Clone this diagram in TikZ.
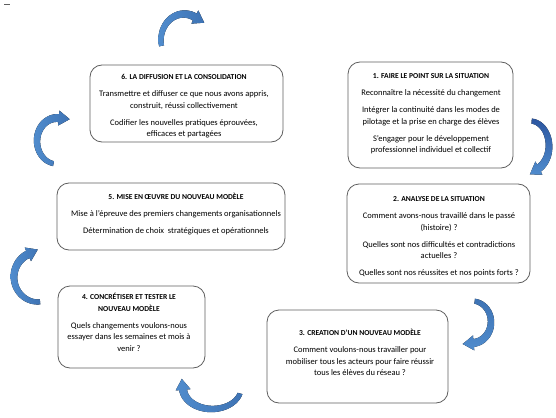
\documentclass[tikz,border=0pt]{standalone}
\usepackage{fontspec}
\setmainfont{Carlito}
\definecolor{boxgray}{RGB}{95,95,95}
\definecolor{arrblue}{RGB}{80,140,205}
\definecolor{arrmid}{RGB}{62,115,180}
\definecolor{arrdark}{RGB}{44,86,160}
\newcommand\bodyf{\fontsize{8.5}{11.5}\selectfont}
\newcommand\ttl[1]{{\fontsize{7.6}{11.5}\selectfont\bfseries\rule{0pt}{8pt}#1}}
\def\arrhl{11}
% #1 cx #2 cy #3 rx #4 ry #5 start angle #6 end angle #7 tail width #8 width at head #9 head width
\newcommand\carrow[9]{%
  \pgfmathsetmacro\sg{sign(#6-#5)}%
  \pgfmathsetmacro\bx{#1+#3*cos(#6)}%
  \pgfmathsetmacro\by{#2+#4*sin(#6)}%
  \pgfmathsetmacro\tx{-#3*sin(#6)*\sg}%
  \pgfmathsetmacro\ty{#4*cos(#6)*\sg}%
  \pgfmathsetmacro\tn{sqrt(\tx*\tx+\ty*\ty)}%
  \pgfmathsetmacro\tipx{\bx+\arrhl*\tx/\tn}%
  \pgfmathsetmacro\tipy{\by+\arrhl*\ty/\tn}%
  \fill[arrfill] plot[domain=#5:#6,samples=30,variable=\t]
    ({#1+(#3+(#7+(#8-#7)*(\t-(#5))/((#6)-(#5)))/2)*cos(\t)},{#2+(#4+(#7+(#8-#7)*(\t-(#5))/((#6)-(#5)))/2)*sin(\t)})
    -- ({#1+(#3+#9/2)*cos(#6)},{#2+(#4+#9/2)*sin(#6)})
    -- (\tipx,\tipy)
    -- ({#1+(#3-#9/2)*cos(#6)},{#2+(#4-#9/2)*sin(#6)})
    -- plot[domain=#6:#5,samples=30,variable=\t]
    ({#1+(#3-(#7+(#8-#7)*(\t-(#5))/((#6)-(#5)))/2)*cos(\t)},{#2+(#4-(#7+(#8-#7)*(\t-(#5))/((#6)-(#5)))/2)*sin(\t)})
    -- cycle;}
\begin{document}
\begin{tikzpicture}[x=1pt,y=-1pt,
  box/.style={draw=boxgray, line width=0.8pt, rounded corners=12pt, inner sep=0pt},
  txt/.style={align=center, inner sep=0pt, anchor=north, font=\bodyf},
  arrfill/.style={left color=arrblue, right color=arrmid}]
\useasboundingbox (0,0) rectangle (556,417);
\fill[white] (0,0) rectangle (556,417);
\draw[boxgray, line width=0.5pt] (4,4) -- (10,4);

% boxes
\node[box, minimum width=193pt, minimum height=77pt] (b6) at (186.5,103.5) {};
\node[box, minimum width=165pt, minimum height=106pt] (b1) at (430.5,115) {};
\node[box, minimum width=183pt, minimum height=99pt] (b2) at (438.5,233.5) {};
\node[box, minimum width=228pt, minimum height=67pt] (b5) at (171,216.5) {};
\node[box, minimum width=147pt, minimum height=82pt] (b4) at (131.5,327) {};
\node[box, minimum width=181pt, minimum height=93pt] (b3) at (357.5,356.5) {};

% texts
\node[txt] (t6) at (184,71.5) {\ttl{6. LA DIFFUSION ET LA CONSOLIDATION}\\[5.5pt]
Transmettre et diffuser ce que nous avons appris,\\
construit, réussi collectivement\\[5.5pt]
Codifier les nouvelles pratiques éprouvées,\\
efficaces et partagées};

\node[txt] (t1) at (431,70.5) {\ttl{1. FAIRE LE POINT SUR LA SITUATION}\\[5.5pt]
Reconnaître la nécessité du changement\\[5.5pt]
Intégrer la continuité dans les modes de\\
pilotage et la prise en charge des élèves\\[5.5pt]
S’engager pour le développement\\
professionnel individuel et collectif};

\node[txt] (t2) at (439,193.5) {\ttl{2. ANALYSE DE LA SITUATION}\\[5.5pt]
Comment avons-nous travaillé dans le passé\\
(histoire) ?\\[5.5pt]
Quelles sont nos difficultés et contradictions\\
actuelles ?\\[5.5pt]
Quelles sont nos réussites et nos points forts ?};

\node[txt] (t5) at (176,191.5) {\ttl{5. MISE EN ŒUVRE DU NOUVEAU MODÈLE}\\[5.5pt]
Mise à l’épreuve des premiers changements organisationnels\\[5.5pt]
Détermination de choix\ \ stratégiques et opérationnels};

\node[txt] (t4) at (129,291.5) {\ttl{4. CONCRÉTISER ET TESTER LE}\\
\ttl{NOUVEAU MODÈLE}\\[5.5pt]
Quels changements voulons-nous\\
essayer dans les semaines et mois à\\
venir ?};

\node[txt] (t3) at (360,327.5) {\ttl{3. CREATION D’UN NOUVEAU MODÈLE}\\[5.5pt]
Comment voulons-nous travailler pour\\
mobiliser tous les acteurs pour faire réussir\\
tous les élèves du réseau ?};

% curved arrows
\carrow{184}{40}{23}{26}{167}{298}{5}{8}{15}
\carrow{57}{141}{20}{23}{100}{275}{5}{8}{15}
\begin{scope}[arrfill/.style={top color=arrdark, bottom color=arrblue}]
\carrow{530}{146}{19}{25}{275}{422}{5}{8}{15}
\end{scope}
\begin{scope}[arrfill/.style={top color=arrmid, bottom color=arrblue}]
\carrow{472}{322}{19}{21}{278}{445}{5}{8}{15}
\end{scope}
\carrow{38}{277}{24}{25}{85}{245}{5}{8}{15}
\carrow{212}{388}{29}{21}{15}{175}{5}{8}{15}
\end{tikzpicture}
\end{document}
